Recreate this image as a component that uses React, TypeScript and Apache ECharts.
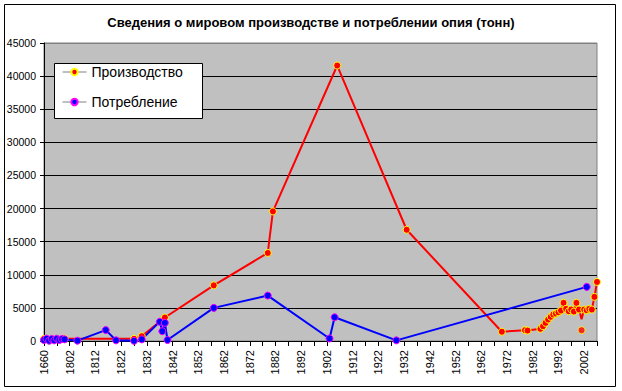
import React, { useEffect, useRef } from "react";
import * as echarts from "echarts";

const titleText = "Сведения о мировом производстве и потреблении опия (тонн)";
const seriesNames = ["Производство", "Потребление"];

// x tick labels, one per 10 years starting at the axis minimum
const xTickLabels = [
  "1660", "1802", "1812", "1822", "1832", "1842", "1852", "1862", "1872", "1882", "1892",
  "1902", "1912", "1922", "1932", "1942", "1952", "1962", "1972", "1982", "1992", "2002",
];

const prodYears = [
  1792, 1800, 1827, 1830, 1839, 1858, 1879, 1881, 1906, 1933, 1970, 1979, 1980, 1985,
  1986, 1987, 1988, 1989, 1990, 1991, 1992, 1993, 1994, 1995, 1996, 1997, 1998, 1999,
  2000, 2001, 2002, 2003, 2004, 2005, 2006, 2007,
];
const prodValues = [
  330, 330, 330, 720, 3550, 8400, 13300, 19570, 41600, 16800, 1400, 1630, 1580, 1840,
  2230, 2740, 3240, 3650, 4000, 4150, 4340, 4600, 5760, 4850, 4500, 4750, 4450, 5760,
  4750, 3300, 4750, 4640, 4850, 4750, 6660, 8920,
];
// points of the line drawn without a marker
const prodNoMarkerYears = [2001];
// marker drawn apart from the line
const prodLooseYears = [2001];
const prodLooseValues = [1630];

const consYears = [
  1792, 1793, 1794, 1795, 1796, 1797, 1798, 1799, 1800, 1805, 1816, 1820, 1827, 1830,
  1837, 1838, 1839, 1840, 1858, 1879, 1903, 1905, 1929, 2003,
];
const consValues = [
  150, 350, 50, 300, 100, 350, 150, 300, 250, 50, 1650, 100, 30, 250,
  2900, 1480, 2740, 150, 5000, 6860, 380, 3590, 100, 8170,
];

const FONT = "'Liberation Sans', Arial, sans-serif";

export default function App() {
  const ref = useRef<HTMLDivElement>(null);
  useEffect(() => {
    if (!ref.current) return;
    const chart = echarts.init(ref.current, undefined, { renderer: "svg" });
    const prodData = prodYears.map((y, i) =>
      prodNoMarkerYears.includes(y)
        ? { value: [y, prodValues[i]], symbol: "none" }
        : { value: [y, prodValues[i]] }
    );
    const consData = consYears.map((y, i) => [y, consValues[i]]);
    const looseData = prodLooseYears.map((y, i) => [y, prodLooseValues[i]]);
    const redItem = { color: "#FF0000", borderColor: "#FFFF00", borderWidth: 1 };
    const blueItem = { color: "#0000FF", borderColor: "#FF00FF", borderWidth: 1 };
    chart.setOption({
      animation: false,
      backgroundColor: "#FFFFFF",
      textStyle: { fontFamily: FONT },
      title: {
        text: titleText,
        left: "center",
        top: 16,
        padding: 0,
        textStyle: { fontFamily: FONT, fontSize: 13, fontWeight: "bold", color: "#000" },
      },
      grid: {
        left: 44,
        right: 25,
        top: 43,
        bottom: 50,
        show: true,
        backgroundColor: "#C0C0C0",
        borderColor: "#808080",
        borderWidth: 1,
      },
      legend: {
        data: seriesNames,
        orient: "vertical",
        left: 62,
        top: 65,
        padding: 0,
        itemWidth: 24,
        itemHeight: 8,
        itemGap: 16,
        z: 5,
        lineStyle: { color: "#808080", width: 1 },
        textStyle: { fontFamily: FONT, fontSize: 14, color: "#000", lineHeight: 14 },
      },
      graphic: [
        {
          type: "rect",
          z: 3,
          shape: { x: 4.5, y: 4.5, width: 611, height: 382 },
          style: { fill: "none", stroke: "#000", lineWidth: 1 },
        },
        {
          type: "rect",
          z: 3,
          shape: { x: 54.5, y: 63.5, width: 148, height: 55 },
          style: { fill: "#FFFFFF", stroke: "#000", lineWidth: 1 },
        },
      ],
      xAxis: {
        type: "value",
        min: 1792,
        max: 2007,
        interval: 5,
        axisLine: { show: true, onZero: false, lineStyle: { color: "#000", width: 1 } },
        axisTick: { show: true, length: 5, lineStyle: { color: "#000" } },
        splitLine: { show: false },
        axisLabel: {
          rotate: 90,
          margin: 9,
          fontSize: 11,
          fontFamily: FONT,
          color: "#000",
          formatter: (v: number) => {
            const d = v - 1792;
            if (d % 10 !== 0) return "";
            return xTickLabels[d / 10] ?? "";
          },
        },
      },
      yAxis: {
        type: "value",
        min: 0,
        max: 45000,
        interval: 5000,
        axisLine: { show: true, lineStyle: { color: "#000", width: 1 } },
        axisTick: { show: true, length: 4, lineStyle: { color: "#000" } },
        splitLine: {
          show: true,
          lineStyle: {
            color: ["#000", "#000", "#000", "#000", "#000", "#000", "#000", "#000", "#000", "#808080"],
            width: 1,
          },
        },
        axisLabel: {
          fontSize: 10.5,
          fontFamily: FONT,
          color: "#000",
          margin: 8,
          formatter: (v: number) => String(v),
        },
      },
      series: [
        {
          name: seriesNames[0],
          type: "line",
          data: prodData,
          symbol: "circle",
          symbolSize: 7,
          showAllSymbol: true,
          itemStyle: redItem,
          lineStyle: { color: "#FF0000", width: 2 },
        },
        {
          name: seriesNames[1],
          type: "line",
          data: consData,
          symbol: "circle",
          symbolSize: 7,
          showAllSymbol: true,
          itemStyle: blueItem,
          lineStyle: { color: "#0000FF", width: 2 },
        },
        {
          name: "extra",
          type: "scatter",
          data: looseData,
          symbol: "circle",
          symbolSize: 7,
          itemStyle: redItem,
        },
      ],
    });
    return () => chart.dispose();
  }, []);
  return (
    <div
      ref={ref}
      style={{ position: "absolute", left: 0, top: 0, width: 622, height: 391 }}
    />
  );
}
